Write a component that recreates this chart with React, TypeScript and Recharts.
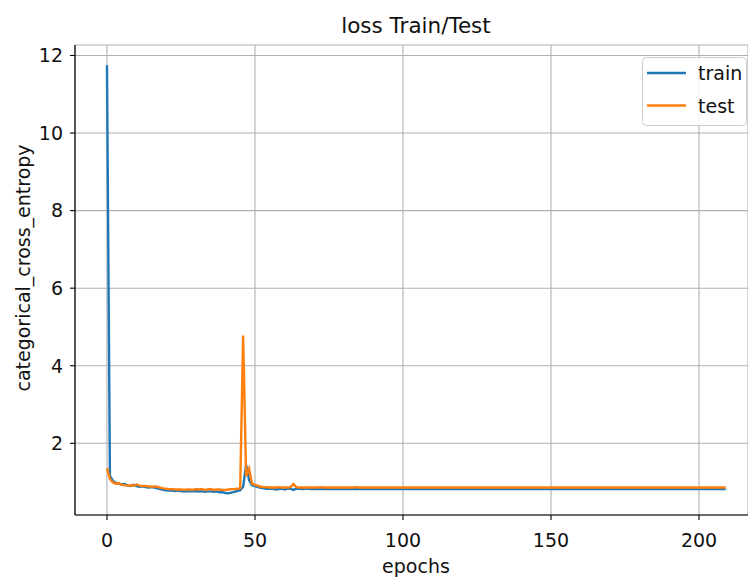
import React from 'react';
import { LineChart, Line, XAxis, YAxis, CartesianGrid, Legend, Label } from 'recharts';

const trainLoss: number[] = [
  11.75, 1.16, 1.03, 0.98, 0.96, 0.94, 0.95, 0.91, 0.90, 0.93,
  0.90, 0.88, 0.89, 0.87, 0.86, 0.87, 0.86, 0.84, 0.82, 0.80,
  0.79, 0.78, 0.78, 0.77, 0.78, 0.77, 0.76, 0.77, 0.76, 0.76,
  0.77, 0.76, 0.77, 0.75, 0.76, 0.76, 0.75, 0.76, 0.74, 0.74,
  0.72, 0.71, 0.73, 0.75, 0.77, 0.79, 0.88, 1.45, 1.05, 0.92,
  0.90, 0.87, 0.85, 0.84, 0.83, 0.83, 0.83, 0.81, 0.82, 0.83,
  0.81, 0.83, 0.83, 0.80, 0.83, 0.83, 0.82, 0.83, 0.83, 0.82,
  0.82, 0.83, 0.82, 0.82, 0.83, 0.82, 0.82, 0.82, 0.83, 0.82,
  0.82, 0.82, 0.83, 0.82, 0.82, 0.82, 0.82, 0.83, 0.82, 0.82,
  0.82, 0.83, 0.82, 0.82, 0.82, 0.82, 0.82, 0.83, 0.82, 0.82,
  0.82, 0.82, 0.82, 0.83, 0.82, 0.82, 0.82, 0.82, 0.82, 0.83,
  0.82, 0.82, 0.82, 0.82, 0.82, 0.83, 0.82, 0.82, 0.82, 0.82,
  0.82, 0.82, 0.83, 0.82, 0.82, 0.82, 0.82, 0.82, 0.82, 0.82,
  0.83, 0.82, 0.82, 0.82, 0.82, 0.82, 0.82, 0.83, 0.82, 0.82,
  0.82, 0.82, 0.82, 0.82, 0.82, 0.82, 0.83, 0.82, 0.82, 0.82,
  0.82, 0.82, 0.82, 0.82, 0.82, 0.82, 0.82, 0.82, 0.83, 0.82,
  0.82, 0.82, 0.82, 0.82, 0.82, 0.82, 0.82, 0.82, 0.82, 0.82,
  0.82, 0.83, 0.82, 0.82, 0.82, 0.82, 0.82, 0.82, 0.82, 0.82,
  0.82, 0.82, 0.82, 0.82, 0.82, 0.83, 0.82, 0.82, 0.82, 0.82,
  0.82, 0.82, 0.82, 0.82, 0.82, 0.82, 0.82, 0.82, 0.82, 0.82,
  0.82, 0.82, 0.82, 0.83, 0.82, 0.82, 0.82, 0.82, 0.82, 0.82,
];

const testLoss: number[] = [
  1.36, 1.08, 0.99, 0.96, 0.97, 0.93, 0.92, 0.91, 0.92, 0.91,
  0.94, 0.91, 0.90, 0.90, 0.89, 0.88, 0.89, 0.88, 0.86, 0.84,
  0.83, 0.82, 0.82, 0.81, 0.81, 0.81, 0.80, 0.81, 0.81, 0.80,
  0.82, 0.81, 0.82, 0.80, 0.81, 0.82, 0.80, 0.81, 0.81, 0.80,
  0.80, 0.81, 0.82, 0.82, 0.83, 0.84, 4.78, 1.15, 1.35, 0.96,
  0.93, 0.91, 0.88, 0.87, 0.87, 0.86, 0.86, 0.86, 0.87, 0.86,
  0.86, 0.86, 0.87, 0.95, 0.87, 0.86, 0.86, 0.86, 0.86, 0.86,
  0.86, 0.86, 0.87, 0.86, 0.86, 0.86, 0.86, 0.86, 0.86, 0.86,
  0.86, 0.86, 0.86, 0.86, 0.87, 0.86, 0.86, 0.86, 0.86, 0.86,
  0.86, 0.86, 0.86, 0.86, 0.86, 0.86, 0.86, 0.86, 0.86, 0.86,
  0.86, 0.86, 0.86, 0.86, 0.86, 0.86, 0.86, 0.86, 0.86, 0.86,
  0.86, 0.86, 0.86, 0.86, 0.86, 0.86, 0.86, 0.86, 0.86, 0.86,
  0.86, 0.86, 0.86, 0.86, 0.86, 0.86, 0.86, 0.86, 0.86, 0.86,
  0.86, 0.86, 0.86, 0.86, 0.86, 0.86, 0.86, 0.86, 0.86, 0.86,
  0.86, 0.86, 0.86, 0.86, 0.86, 0.86, 0.86, 0.86, 0.86, 0.86,
  0.86, 0.86, 0.86, 0.86, 0.86, 0.86, 0.86, 0.86, 0.86, 0.86,
  0.86, 0.86, 0.86, 0.86, 0.86, 0.86, 0.86, 0.86, 0.86, 0.86,
  0.86, 0.86, 0.86, 0.86, 0.86, 0.86, 0.86, 0.86, 0.86, 0.86,
  0.86, 0.86, 0.86, 0.86, 0.86, 0.86, 0.86, 0.86, 0.86, 0.86,
  0.86, 0.86, 0.86, 0.86, 0.86, 0.86, 0.86, 0.86, 0.86, 0.86,
  0.86, 0.86, 0.86, 0.86, 0.86, 0.86, 0.86, 0.86, 0.86, 0.86,
];

const xTicks = [0, 50, 100, 150, 200];
const yTicks = [2, 4, 6, 8, 10, 12];
const seriesNames = ['train', 'test'];
const seriesColors = ['#1f77b4', '#ff7f0e'];
const titleText = 'loss Train/Test';
const xLabelText = 'epochs';
const yLabelText = 'categorical_cross_entropy';

const X_DOMAIN: [number, number] = [-10.8, 216.55];
const Y_DOMAIN: [number, number] = [0.152, 12.27];

const FONT = '"DejaVu Sans", sans-serif';
const FS = 19;

const data = trainLoss.map((v, i) => ({ epoch: i, train: v, test: testLoss[i] }));

const XTick = (props: any) => {
  const { x, y, payload } = props;
  return (
    <text x={x} y={y + 25} textAnchor="middle" fontSize={FS} fontFamily={FONT} fill="#111">
      {payload.value}
    </text>
  );
};

const YTick = (props: any) => {
  const { x, y, payload } = props;
  return (
    <text x={x} y={y} dy="0.36em" textAnchor="end" fontSize={FS} fontFamily={FONT} fill="#111">
      {payload.value}
    </text>
  );
};

const LegendBox = () => (
  <svg width={106} height={70} style={{ display: 'block' }}>
    <rect x={0.5} y={0.5} width={104} height={68} rx={4} ry={4} fill="rgba(255,255,255,0.85)" stroke="#cccccc" strokeWidth={1} />
    {seriesNames.map((name, i) => (
      <g key={name}>
        <line x1={5} x2={44} y1={16 + i * 32.5} y2={16 + i * 32.5} stroke={seriesColors[i]} strokeWidth={2.4} />
        <text x={56} y={23 + i * 32.5} fontSize={FS} fontFamily={FONT} fill="#111">
          {name}
        </text>
      </g>
    ))}
  </svg>
);

export default function App() {
  return (
    <div style={{ position: 'absolute', left: 0, top: 0, width: 748, height: 577, overflow: 'hidden', background: '#fff' }}>
      <svg width={748} height={45} style={{ position: 'absolute', left: 0, top: 0 }}>
        <text x={416} y={33} textAnchor="middle" fontSize={21.5} fontFamily={FONT} fill="#111">
          {titleText}
        </text>
      </svg>
      <LineChart width={748} height={577} data={data} margin={{ top: 45, right: 0, bottom: 0, left: 0 }}>
        <CartesianGrid stroke="#b0b0b0" strokeWidth={1.1} />
        <XAxis
          xAxisId="top"
          orientation="top"
          dataKey="epoch"
          type="number"
          domain={X_DOMAIN}
          allowDataOverflow
          height={0}
          tick={false}
          tickLine={false}
          axisLine={{ stroke: '#000', strokeWidth: 1.2 }}
        />
        <XAxis
          dataKey="epoch"
          type="number"
          domain={X_DOMAIN}
          allowDataOverflow
          ticks={xTicks}
          interval={0}
          height={62}
          tickSize={5}
          tickMargin={2}
          tick={(p: any) => <XTick {...p} />}
          tickLine={{ stroke: '#000', strokeWidth: 1.1 }}
          axisLine={{ stroke: '#000', strokeWidth: 1.2 }}
        >
          <Label
            content={() => (
              <text x={416} y={573} textAnchor="middle" fontSize={FS} fontFamily={FONT} fill="#111">
                {xLabelText}
              </text>
            )}
          />
        </XAxis>
        <YAxis
          type="number"
          domain={Y_DOMAIN}
          allowDataOverflow
          ticks={yTicks}
          interval={0}
          width={75}
          tickSize={5}
          tickMargin={7}
          tick={(p: any) => <YTick {...p} />}
          tickLine={{ stroke: '#000', strokeWidth: 1.1 }}
          axisLine={{ stroke: '#000', strokeWidth: 1.2 }}
        >
          <Label
            content={() => (
              <text
                x={30}
                y={268}
                transform="rotate(-90 30 268)"
                textAnchor="middle"
                fontSize={FS}
                fontFamily={FONT}
                fill="#111"
              >
                {yLabelText}
              </text>
            )}
          />
        </YAxis>
        <Legend
          layout="vertical"
          align="center"
          verticalAlign="middle"
          wrapperStyle={{ left: 642, top: 57, width: 106, height: 70 }}
          content={() => <LegendBox />}
        />
        <Line
          type="linear"
          dataKey="train"
          name={seriesNames[0]}
          stroke={seriesColors[0]}
          strokeWidth={2.4}
          dot={false}
          isAnimationActive={false}
        />
        <Line
          type="linear"
          dataKey="test"
          name={seriesNames[1]}
          stroke={seriesColors[1]}
          strokeWidth={2.4}
          dot={false}
          isAnimationActive={false}
        />
      </LineChart>
    </div>
  );
}
